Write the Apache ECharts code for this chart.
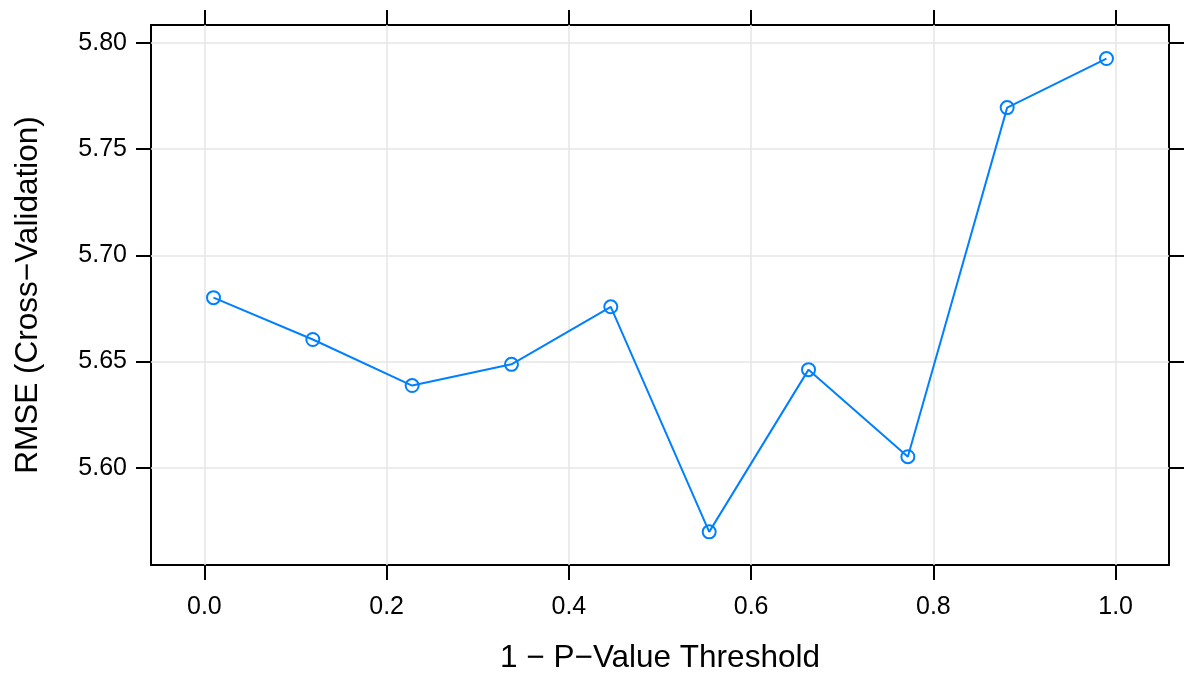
<!DOCTYPE html>
<html>
<head>
<meta charset="utf-8">
<script src="https://cdn.jsdelivr.net/npm/echarts@6/dist/echarts.min.js"></script>
<style>
html,body{margin:0;padding:0;background:#fff;}
#chart{width:1188px;height:677px;}
</style>
</head>
<body>
<div id="chart"></div>
<script>
// Data
const thresholds = [0.01, 0.119, 0.228, 0.337, 0.446, 0.554, 0.663, 0.772, 0.881, 0.99];
const rmse = [5.6801, 5.6604, 5.6387, 5.6487, 5.6758, 5.5698, 5.6462, 5.6052, 5.7696, 5.7927];
const xTicks = [0.0, 0.2, 0.4, 0.6, 0.8, 1.0];
const yTicks = [5.60, 5.65, 5.70, 5.75, 5.80];
const xTitle = '1 \u2212 P\u2212Value Threshold';
const yTitle = 'RMSE (Cross\u2212Validation)';

const xMin = -0.0586, xMax = 1.0586;
const yMin = 5.5542, yMax = 5.8085;

const FONT = 'Liberation Sans, Arial, Helvetica, sans-serif';
const lineCol = '#000000';
const gridCol = '#e6e6e6';
const blue = '#0080ff';

function tickStyle(vals) {
  return { show: true, inside: false, length: 15, customValues: vals, lineStyle: { color: lineCol, width: 2 } };
}
function axisBase(extra) {
  return Object.assign({
    axisLine: { show: true, onZero: false, lineStyle: { color: lineCol, width: 2 } },
    splitLine: { show: false },
    axisLabel: { show: false }
  }, extra);
}

const data = thresholds.map((x, i) => [x, rmse[i]]);

const chart = echarts.init(document.getElementById('chart'), null, { renderer: 'canvas' });
chart.setOption({
  animation: false,
  backgroundColor: '#ffffff',
  textStyle: { fontFamily: FONT },
  grid: { left: 151, right: 19, top: 25, bottom: 112, containLabel: false, outerBoundsMode: 'none' },
  xAxis: [
    axisBase({
      type: 'value', position: 'bottom', min: xMin, max: xMax,
      axisTick: tickStyle(xTicks),
      axisLabel: { show: true, customValues: xTicks, margin: 30, fontSize: 25, color: '#000', fontFamily: FONT,
        formatter: v => v.toFixed(1) },
      name: xTitle, nameLocation: 'middle', nameGap: 77,
      nameTextStyle: { fontSize: 31.5, color: '#000', fontFamily: FONT }
    }),
    axisBase({
      type: 'value', position: 'top', min: xMin, max: xMax,
      axisTick: tickStyle(xTicks)
    })
  ],
  yAxis: [
    axisBase({
      type: 'value', position: 'left', min: yMin, max: yMax,
      axisTick: tickStyle(yTicks),
      axisLabel: { show: true, customValues: yTicks, margin: 24, fontSize: 25, color: '#000', fontFamily: FONT,
        formatter: v => v.toFixed(2) },
      name: yTitle, nameLocation: 'middle', nameGap: 107, nameRotate: 90,
      nameTextStyle: { fontSize: 31.5, color: '#000', fontFamily: FONT }
    }),
    axisBase({
      type: 'value', position: 'right', min: yMin, max: yMax,
      axisTick: tickStyle(yTicks)
    })
  ],
  series: [
    {
      type: 'line', xAxisIndex: 0, yAxisIndex: 0, data: [], z: 1, silent: true,
      markLine: {
        z: 1, silent: true, symbol: ['none', 'none'], label: { show: false },
        lineStyle: { color: gridCol, width: 1.5, type: 'solid' },
        animation: false,
        data: xTicks.map(v => ({ xAxis: v })).concat(yTicks.map(v => ({ yAxis: v })))
      }
    },
    {
      type: 'line', xAxisIndex: 0, yAxisIndex: 0, z: 3,
      data: data,
      symbol: 'circle', symbolSize: 13,
      showSymbol: true,
      lineStyle: { color: blue, width: 2 },
      itemStyle: { color: 'rgba(0,0,0,0)', borderColor: blue, borderWidth: 2 }
    }
  ]
});
</script>
</body>
</html>
